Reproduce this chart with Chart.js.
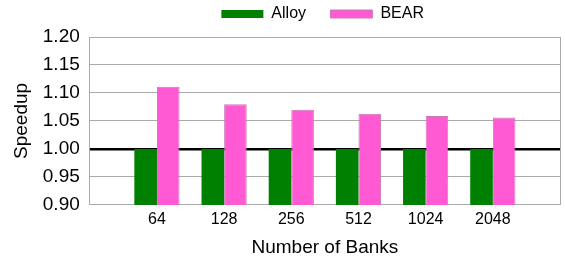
<!DOCTYPE html>
<html>
<head>
<meta charset="utf-8">
<script src="https://cdn.jsdelivr.net/npm/chart.js@4"></script>
<style>
  html, body { margin: 0; padding: 0; background: #fff; }
  #wrap { width: 565px; height: 258px; }
</style>
</head>
<body>
<div id="wrap"><canvas id="chart" width="565" height="258"></canvas></div>
<script>
// empty slots at both ends keep the gap left of 64 and right of 2048
const banks = ['', '64', '128', '256', '512', '1024', '2048', ''];
const alloy = [null, 1.00, 1.00, 1.00, 1.00, 1.00, 1.00, null];
const bear = [null, 1.111, 1.080, 1.070, 1.063, 1.059, 1.056, null];
const yTicks = [0.90, 0.95, 1.00, 1.05, 1.10, 1.15, 1.20];

const gridGray = '#aaaaaa';
const font = 'Liberation Sans';

// center the legend over the plot area instead of the whole canvas
const legendOverPlot = {
  id: 'legendOverPlot',
  afterLayout(chart) {
    const lg = chart.legend;
    lg.left = chart.chartArea.left;
    lg.right = chart.chartArea.right;
    lg.top -= 5;
  }
};

const ctx = document.getElementById('chart').getContext('2d');
new Chart(ctx, {
  type: 'bar',
  data: {
    labels: banks,
    datasets: [
      {
        label: 'Alloy',
        data: alloy,
        backgroundColor: '#008000',
        borderWidth: 0,
        barPercentage: 1,
        categoryPercentage: 0.673
      },
      {
        label: 'BEAR',
        data: bear,
        backgroundColor: '#ff5ad4',
        borderColor: '#c87ab4',
        borderWidth: 1,
        barPercentage: 1,
        categoryPercentage: 0.673
      }
    ]
  },
  plugins: [legendOverPlot],
  options: {
    responsive: false,
    animation: false,
    layout: { padding: { left: 10, right: 0, top: 0, bottom: 0 } },
    plugins: {
      legend: {
        position: 'top',
        labels: {
          boxWidth: 42,
          boxHeight: 8,
          padding: 11,
          color: '#000',
          font: { family: font, size: 16 },
          // trailing spaces widen the gap between the entries
          generateLabels: chart => Chart.defaults.plugins.legend.labels.generateLabels(chart)
            .map((item, i) => Object.assign(item, { text: item.text + (i === 0 ? '   ' : ' ') }))
        }
      },
      tooltip: { enabled: false }
    },
    scales: {
      x: {
        offset: false,
        grid: {
          offset: false,
          drawTicks: false,
          color: c => (c.index === 0 || c.index === banks.length - 1) ? gridGray : 'transparent'
        },
        border: { color: gridGray },
        ticks: {
          padding: 5,
          maxRotation: 0,
          color: '#000',
          font: { family: font, size: 16 }
        },
        title: {
          display: true,
          text: 'Number of Banks',
          color: '#000',
          padding: { top: 3, bottom: 0 },
          font: { family: font, size: 19, lineHeight: 1.1 }
        }
      },
      y: {
        min: yTicks[0],
        max: yTicks[yTicks.length - 1],
        grid: {
          drawTicks: false,
          color: c => Math.abs(c.tick.value - 1) < 1e-6 ? '#000' : gridGray,
          lineWidth: c => Math.abs(c.tick.value - 1) < 1e-6 ? 2.5 : 1
        },
        border: { color: gridGray },
        afterBuildTicks: axis => { axis.ticks = yTicks.map(v => ({ value: v })); },
        ticks: {
          padding: 10,
          color: '#000',
          font: { family: font, size: 19 },
          callback: v => v.toFixed(2)
        },
        title: {
          display: true,
          text: 'Speedup',
          color: '#000',
          padding: { top: 0, bottom: 0 },
          font: { family: font, size: 19 }
        }
      }
    }
  }
});
</script>
</body>
</html>
